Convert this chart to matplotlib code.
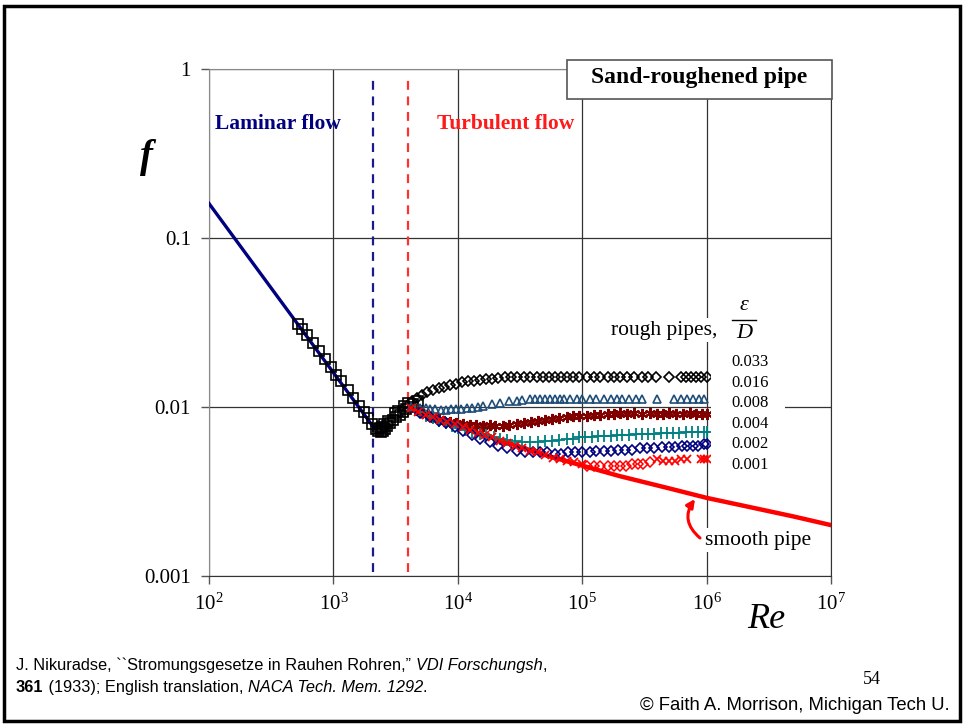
import matplotlib
matplotlib.use('Agg')
import matplotlib.pyplot as plt
from matplotlib.patches import Rectangle
from matplotlib.lines import Line2D
from matplotlib.transforms import IdentityTransform

plt.rcParams['font.family'] = ['Liberation Serif', 'DejaVu Serif']
plt.rcParams['mathtext.fontset'] = 'custom'
plt.rcParams['mathtext.rm'] = 'Liberation Serif'
plt.rcParams['mathtext.it'] = 'Liberation Serif:italic'

# laminar line and smooth-pipe curve
lam_re = [100, 2100]
lam_f = [0.16, 0.0076]
smooth_re = [4000, 6000, 1e4, 2e4, 5e4, 1e5, 2e5, 5e5, 1e6, 2e6, 5e6, 1e7]
smooth_f = [0.0099, 0.0088, 0.0077, 0.0065, 0.0052, 0.0045, 0.0039, 0.0033, 0.0029, 0.0026, 0.00225, 0.0020]

# transition data (open squares)
sq_re = [520, 560, 610, 680, 760, 850, 950, 1050, 1150, 1300, 1450, 1600, 1750, 1900, 2050,
         2200, 2300, 2350, 2400, 2450, 2500, 2550, 2600, 2700, 2750, 2850, 3000, 3100, 3200,
         3300, 3400, 3600, 3700, 3850, 4000, 4100, 4400, 4800]
sq_f = [0.0310, 0.0290, 0.0268, 0.0240, 0.0214, 0.0192, 0.0172, 0.0155, 0.0142, 0.0126, 0.0113,
        0.0102, 0.0093, 0.0086, 0.0079, 0.0074, 0.0072, 0.0075, 0.0071, 0.0076, 0.0072, 0.0079,
        0.0074, 0.0077, 0.0083, 0.0080, 0.0084, 0.0092, 0.0087, 0.0095, 0.0090, 0.0093, 0.0101,
        0.0097, 0.0106, 0.0100, 0.0104, 0.0109]

# rough pipes, eps/D = 0.033
r033_re = [4300, 4700, 5200, 5700, 6300, 7000, 7800, 8700, 9700, 10800, 12000, 13500, 15000,
           17000, 19000, 21000, 24000, 27000, 30000, 34000, 38000, 43000, 48000, 54000, 60000,
           68000, 76000, 85000, 95000, 110000, 125000, 140000, 160000, 180000, 200000, 230000,
           260000, 300000, 340000, 390000, 500000, 620000, 680000, 750000, 820000, 900000, 1000000]
r033_f = [0.0108, 0.0113, 0.0118, 0.0122, 0.0126, 0.0129, 0.0132, 0.0135, 0.0137, 0.0140, 0.0142,
          0.0143, 0.0145, 0.0146, 0.0147, 0.0149, 0.0150, 0.0151, 0.0151, 0.0150, 0.0151, 0.0151,
          0.0150, 0.0151, 0.0150, 0.0151, 0.0151, 0.0150, 0.0150, 0.0151, 0.0151, 0.0150, 0.0150,
          0.0151, 0.0150, 0.0150, 0.0151, 0.0150, 0.0151, 0.0150, 0.0151, 0.0151, 0.0150, 0.0151,
          0.0150, 0.0151, 0.0151]

# 0.016
r016_re = [4200, 4600, 5000, 5500, 6000, 6600, 7300, 8000, 8800, 9700, 10700, 11800, 13000, 14500,
           16000, 19000, 22000, 26000, 30000, 33000, 38000, 42000, 46000, 50000, 55000, 60000,
           66000, 72000, 80000, 90000, 100000, 115000, 130000, 150000, 170000, 190000, 210000,
           240000, 270000, 300000, 400000, 550000, 620000, 700000, 780000, 870000, 950000]
r016_f = [0.0100, 0.0099, 0.0098, 0.0098, 0.0097, 0.0097, 0.0096, 0.0096, 0.0097, 0.0097, 0.0097,
          0.0098, 0.0099, 0.0100, 0.0101, 0.0104, 0.0106, 0.0108, 0.0109, 0.0110, 0.0111, 0.0111,
          0.0112, 0.0112, 0.0111, 0.0112, 0.0112, 0.0111, 0.0112, 0.0112, 0.0111, 0.0112, 0.0112,
          0.0111, 0.0112, 0.0112, 0.0111, 0.0112, 0.0111, 0.0112, 0.0111, 0.0112, 0.0111, 0.0112,
          0.0112, 0.0111, 0.0112]

# 0.008
r008_re = [4500, 5000, 5600, 6200, 7000, 7800, 8700, 9700, 11000, 12500, 14000, 16000, 18000,
           20000, 23000, 26000, 30000, 34000, 39000, 44000, 50000, 57000, 65000, 75000, 85000,
           95000, 110000, 125000, 140000, 160000, 180000, 200000, 230000, 260000, 300000, 350000,
           400000, 450000, 500000, 570000, 650000, 730000, 820000, 920000, 1000000]
r008_f = [0.0097, 0.0093, 0.0090, 0.0087, 0.0085, 0.0083, 0.0082, 0.0080, 0.0079, 0.0078, 0.0078,
          0.0077, 0.0078, 0.0077, 0.0077, 0.0078, 0.0079, 0.0080, 0.0082, 0.0083, 0.0084, 0.0085,
          0.0086, 0.0087, 0.0088, 0.0088, 0.0089, 0.0090, 0.0090, 0.0091, 0.0091, 0.0092, 0.0091,
          0.0092, 0.0091, 0.0092, 0.0091, 0.0091, 0.0092, 0.0091, 0.0091, 0.0092, 0.0091, 0.0091,
          0.0091]

# 0.004
r004_re = [4500, 5000, 5600, 6300, 7000, 8000, 9000, 10000, 11500, 13000, 15000, 17000, 19500,
           22000, 25000, 29000, 33000, 38000, 44000, 50000, 57000, 65000, 75000, 85000, 95000,
           105000, 120000, 135000, 150000, 170000, 190000, 210000, 240000, 270000, 300000, 340000,
           380000, 430000, 480000, 540000, 600000, 680000, 760000, 850000, 950000, 1000000]
r004_f = [0.0096, 0.0093, 0.0089, 0.0086, 0.0083, 0.0080, 0.0077, 0.0075, 0.0073, 0.0071, 0.0069,
          0.0068, 0.0066, 0.0065, 0.0064, 0.0063, 0.0062, 0.0062, 0.0062, 0.0063, 0.0063, 0.0064,
          0.0065, 0.0065, 0.0066, 0.0066, 0.0066, 0.0067, 0.0067, 0.0067, 0.0068, 0.0068, 0.0068,
          0.0069, 0.0069, 0.0069, 0.0069, 0.0070, 0.0070, 0.0070, 0.0070, 0.0071, 0.0071, 0.0071,
          0.0071, 0.0071]

# 0.002
r002_re = [5000, 6000, 7000, 8000, 9500, 11000, 13000, 15000, 18000, 21000, 25000, 30000, 35000,
           40000, 46000, 52000, 60000, 68000, 77000, 87000, 100000, 115000, 130000, 150000, 170000,
           195000, 220000, 250000, 290000, 330000, 380000, 440000, 500000, 560000, 630000, 700000,
           780000, 860000, 950000, 1000000]
r002_f = [0.0092, 0.0087, 0.0083, 0.0080, 0.0076, 0.0072, 0.0068, 0.0065, 0.0062, 0.0059, 0.0057,
          0.0055, 0.0054, 0.0054, 0.0054, 0.0054, 0.0053, 0.0053, 0.0054, 0.0054, 0.0054, 0.0054,
          0.0055, 0.0055, 0.0055, 0.0056, 0.0056, 0.0056, 0.0057, 0.0057, 0.0057, 0.0058, 0.0058,
          0.0058, 0.0059, 0.0059, 0.0059, 0.0059, 0.0060, 0.0060]

# 0.001 (crosses and diamonds)
r001x_re = [4200, 4800, 5500, 6300, 7200, 8200, 9500, 11000, 12500, 14500, 16500, 19000, 22000,
            25000, 29000, 33000, 38000, 44000, 50000, 58000, 66000, 75000, 86000, 100000,
            400000, 450000, 500000, 560000, 620000, 700000, 900000, 950000, 1000000]
r001x_f = [0.0098, 0.0094, 0.0090, 0.0087, 0.0084, 0.0081, 0.0079, 0.0076, 0.0073, 0.0070, 0.0068,
           0.0066, 0.0063, 0.0061, 0.0059, 0.0057, 0.0055, 0.0054, 0.0052, 0.0050, 0.0049, 0.0048,
           0.0047, 0.0046, 0.0049, 0.0048, 0.0048, 0.0048, 0.0049, 0.0049, 0.0049, 0.0049, 0.0049]
r001d_re = [110000, 125000, 140000, 160000, 180000, 200000, 225000, 250000, 280000, 310000, 350000]
r001d_f = [0.0045, 0.0045, 0.0045, 0.0045, 0.0045, 0.0045, 0.0045, 0.0046, 0.0046, 0.0046, 0.0047]

rough_labels = ['0.033', '0.016', '0.008', '0.004', '0.002', '0.001']

W, H = 965, 725
fig = plt.figure(figsize=(9.65, 7.25), dpi=100)
ax = fig.add_axes([209 / W, 1 - 576 / H, (831 - 209) / W, (576 - 69) / H])
ax.set_xscale('log')
ax.set_yscale('log')
ax.set_xlim(1e2, 1e7)
ax.set_ylim(1e-3, 1)
ax.minorticks_off()
ax.grid(True, which='major', color='#333333', lw=0.9)
ax.set_axisbelow(True)
for s in ['left', 'top']:
    ax.spines[s].set_color('#888888')
for s in ['right', 'bottom']:
    ax.spines[s].set_color('#333333')
ax.tick_params(which='major', direction='out', length=6, width=1, color='#555555',
               labelsize=15, pad=7)
ax.set_yticks([1e-3, 1e-2, 1e-1, 1])
ax.set_yticklabels(['0.001', '0.01', '0.1', '1'])

# lines
ax.plot(lam_re, lam_f, color='#000080', lw=2.4, zorder=3)
ax.plot(smooth_re, smooth_f, color='red', lw=3.2, zorder=4)
ax.vlines(2100, 0.00106, 0.885, colors='#1a1a8c', linestyles=(0, (4, 3)), lw=1.6)
ax.vlines(4000, 0.00106, 0.885, colors='#ff3030', linestyles=(0, (4, 3)), lw=1.6)

mk = dict(ls='none', mfc='none', zorder=5)
ax.plot(sq_re, sq_f, marker='s', ms=6.5, mec='black', mew=1.2, **mk)
ax.plot(r033_re, r033_f, marker='D', ms=5, mec='black', mew=1.2, **mk)
ax.plot(r016_re, r016_f, marker='^', ms=6, mec='#1F4E79', mew=1.2, **mk)
ax.plot(r008_re, r008_f, marker=(6, 2, 0), ms=8, mec='#800000', mew=1.5, **mk)
ax.plot(r004_re, r004_f, marker='+', ms=8, mec='#008080', mew=1.3, **mk)
ax.plot(r002_re, r002_f, marker='D', ms=5, mec='#000080', mew=1.2, **mk)
ax.plot(r001x_re, r001x_f, marker='x', ms=6, mec='red', mew=1.3, **mk)
ax.plot(r001d_re, r001d_f, marker='D', ms=5, mec='red', mew=1.1, **mk)

# texts in pixel coordinates
def fx(x):
    return x / W

def fy(y):
    return 1 - y / H

fig.text(fx(215), fy(124), 'Laminar flow', color='#000080', fontsize=15.5, weight='bold',
         va='center', ha='left')
fig.text(fx(437), fy(124), 'Turbulent flow', color='#ff1a1a', fontsize=15.5, weight='bold',
         va='center', ha='left')
fig.text(fx(147), fy(157), 'f', fontsize=28, style='italic', weight='bold', va='center', ha='center')
fig.text(fx(766), fy(620), 'Re', fontsize=26, style='italic', va='center', ha='center')

fig.patches.append(Rectangle((fx(567), fy(99)), (832 - 567) / W, (99 - 60) / H,
                             transform=fig.transFigure, facecolor='white', edgecolor='#555555',
                             lw=1.2, zorder=5))
fig.text(fx(699), fy(78), 'Sand-roughened pipe', fontsize=17, weight='bold', va='center',
         ha='center', zorder=6)

# rough pipe labels
fig.text(fx(611), fy(330), 'rough pipes,', fontsize=15.5, va='center', ha='left',
         bbox=dict(facecolor='white', edgecolor='none', pad=2))
fig.patches.append(Rectangle((fx(724), fy(350)), (765 - 724) / W, (350 - 295) / H,
                             transform=fig.transFigure, facecolor='white', edgecolor='none', zorder=5))
fig.text(fx(744), fy(306), 'ε', fontsize=16, style='italic', va='center', ha='center', zorder=6)
fig.lines.append(Line2D([fx(732), fx(756)], [fy(320), fy(320)], transform=fig.transFigure,
                        color='black', lw=1, zorder=6))
fig.text(fx(744), fy(334), 'D', fontsize=16, style='italic', va='center', ha='center', zorder=6)
fig.patches.append(Rectangle((fx(711), fy(476)), (785 - 711) / W, (476 - 351) / H,
                             transform=fig.transFigure, facecolor='white', edgecolor='none', zorder=5))
for i, lab in enumerate(rough_labels):
    fig.text(fx(731), fy(362 + i * 20.6), lab, fontsize=12, va='center', ha='left', zorder=6)

# smooth pipe annotation
fig.text(fx(705), fy(540), 'smooth pipe', fontsize=15.5, va='center', ha='left',
         bbox=dict(facecolor='white', edgecolor='none', pad=2))
ax.annotate('', xy=(fx(695), fy(499)), xycoords='figure fraction',
            xytext=(fx(700), fy(538)), textcoords='figure fraction',
            arrowprops=dict(arrowstyle='-|>', color='red', lw=2.2, mutation_scale=12,
                            connectionstyle='arc3,rad=-0.45', shrinkA=0, shrinkB=0))

# footer
fig.canvas.draw()
rend = fig.canvas.get_renderer()

def run(parts, x, y):
    for s, kw in parts:
        t = fig.text(x, y, s, transform=IdentityTransform(), fontsize=11.8,
                     family=['Liberation Sans', 'DejaVu Sans'], va='baseline', ha='left', **kw)
        x = t.get_window_extent(rend).x1

run([("J. Nikuradse, ``Stromungsgesetze in Rauhen Rohren,\u201d ", {}),
     ("VDI Forschungsh", dict(style='italic')), (",", {})], 16, H - 670)
run([("361", dict(weight='bold')), (" (1933); English translation, ", {}),
     ("NACA Tech. Mem. 1292", dict(style='italic')), (".", {})], 16, H - 692)
fig.text(fx(872), fy(679), '54', fontsize=13, va='center', ha='center')
fig.text(fx(950), fy(705), '\u00a9 Faith A. Morrison, Michigan Tech U.', fontsize=13.3,
         family=['Liberation Sans', 'DejaVu Sans'], va='center', ha='right')

# slide frame
fig.patches.append(Rectangle((fx(4), fy(721)), (960 - 4) / W, (721 - 6) / H,
                             transform=fig.transFigure, facecolor='none', edgecolor='black',
                             lw=2.5, zorder=10))

fig.savefig('out.png', dpi=100)
